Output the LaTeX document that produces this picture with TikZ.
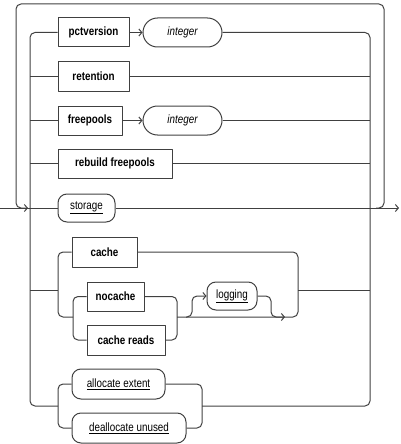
\documentclass[tikz,border=0pt]{standalone}
\usepackage{fontspec}
\setmainfont{Liberation Sans}[FakeStretch=0.82]
\usetikzlibrary{arrows.meta,shapes.misc}
\begin{document}
\begin{tikzpicture}[x=1pt,y=-1pt,line join=round,>={Straight Barb[length=3pt,width=7pt]},
  rail/.style={draw=black!75,line width=1pt,rounded corners=5pt},
  kw/.style={draw=black!75,line width=1pt,rectangle,inner sep=0pt,minimum height=29pt,font=\fontsize{12}{14}\selectfont\bfseries},
  var/.style={draw=black!75,line width=1pt,rounded rectangle,inner sep=0pt,minimum height=29pt,font=\fontsize{12}{14}\selectfont\itshape},
  opt/.style={draw=black!75,line width=1pt,rectangle,rounded corners=9pt,inner sep=0pt,minimum height=29pt,font=\fontsize{12}{14}\selectfont}]
\useasboundingbox (0,0) rectangle (400,444);
\node[kw,minimum width=71pt] (pct) at (93.5,32.5) {pctversion};
\node[var,minimum width=79pt] (int1) at (182.5,32.5) {integer};
\node[kw,minimum width=71pt] (ret) at (93.5,76.5) {retention};
\node[kw,minimum width=64pt] (free) at (90,120.5) {freepools};
\node[var,minimum width=79pt] (int2) at (182.5,120.5) {integer};
\node[kw,minimum width=114pt] (rebuild) at (115,163.5) {rebuild freepools};
\node[opt,minimum width=57pt,minimum height=28pt] (storage) at (86.5,208) {\underline{storage}};
\node[kw,minimum width=65pt,minimum height=30pt] (cache) at (104.5,252) {cache};
\node[kw,minimum width=57pt] (nocache) at (115.5,296.5) {nocache};
\node[kw,minimum width=78pt,minimum height=30pt] (reads) at (126,340) {cache reads};
\node[opt,minimum width=50pt,minimum height=28pt] (logging) at (232,296) {\underline{logging}};
\node[opt,minimum width=93pt,minimum height=30pt] (alloc) at (118.5,384) {\underline{allocate extent}};
\node[opt,minimum width=114pt,minimum height=30pt] (dealloc) at (129,428) {\underline{deallocate unused}};
\coordinate (in) at (0,208);
\coordinate (out) at (399,208);
\coordinate (loopin) at (28,208);
\coordinate (loopout) at (376,208);
\coordinate (lt) at (16,4);
\coordinate (rt) at (384,4);
\coordinate (lr) at (30,406);
\coordinate (rr) at (370,406);
\coordinate (ca) at (58,290);
\coordinate (cb) at (298,290);
\coordinate (nc) at (73,317);
\coordinate (nd) at (177,317);
\coordinate (lg) at (186,317);
\coordinate (lh) at (271,317);
\coordinate (lj) at (285,317);
\coordinate (al) at (58,406);
\coordinate (ar) at (202,406);
\draw[rail] (in) -- (storage.west);
\draw[rail,->] (storage.east) -- (out);
\draw[rail,->] (loopout) -| (rt) -| (loopin -| lt) -- (loopin);
\draw[rail] (pct.west) -| (lr) -- (al);
\draw[rail] (ret.west -| lr) -- (ret.west);
\draw[rail] (free.west -| lr) -- (free.west);
\draw[rail] (rebuild.west -| lr) -- (rebuild.west);
\draw[rail] (ca -| lr) -- (ca);
\draw[rail] (int1.east) -| (rr) -- (ar);
\draw[rail] (ret.east) -- (ret.east -| rr);
\draw[rail] (int2.east) -- (int2.east -| rr);
\draw[rail] (rebuild.east) -- (rebuild.east -| rr);
\draw[rail] (cb) -- (cb -| rr);
\draw[rail,->] (pct.east) -- (int1.west);
\draw[rail,->] (free.east) -- (int2.west);
\draw[rail] (cache.west) -| (nc -| ca) -- (nc);
\draw[rail] (nocache.west) -| (nc) |- (reads.west);
\draw[rail] (nocache.east) -| (nd) |- (reads.east);
\draw[rail] (cache.east) -| (cb |- nd) -- (nd);
\draw[rail,->] (lg) -- ++(6,0) |- (logging.west);
\draw[rail,->] (logging.east) -| (lh) -- (lj);
\draw[rail] (alloc.west) -| (al) |- (dealloc.west);
\draw[rail] (alloc.east) -| (ar) |- (dealloc.east);
\end{tikzpicture}
\end{document}
